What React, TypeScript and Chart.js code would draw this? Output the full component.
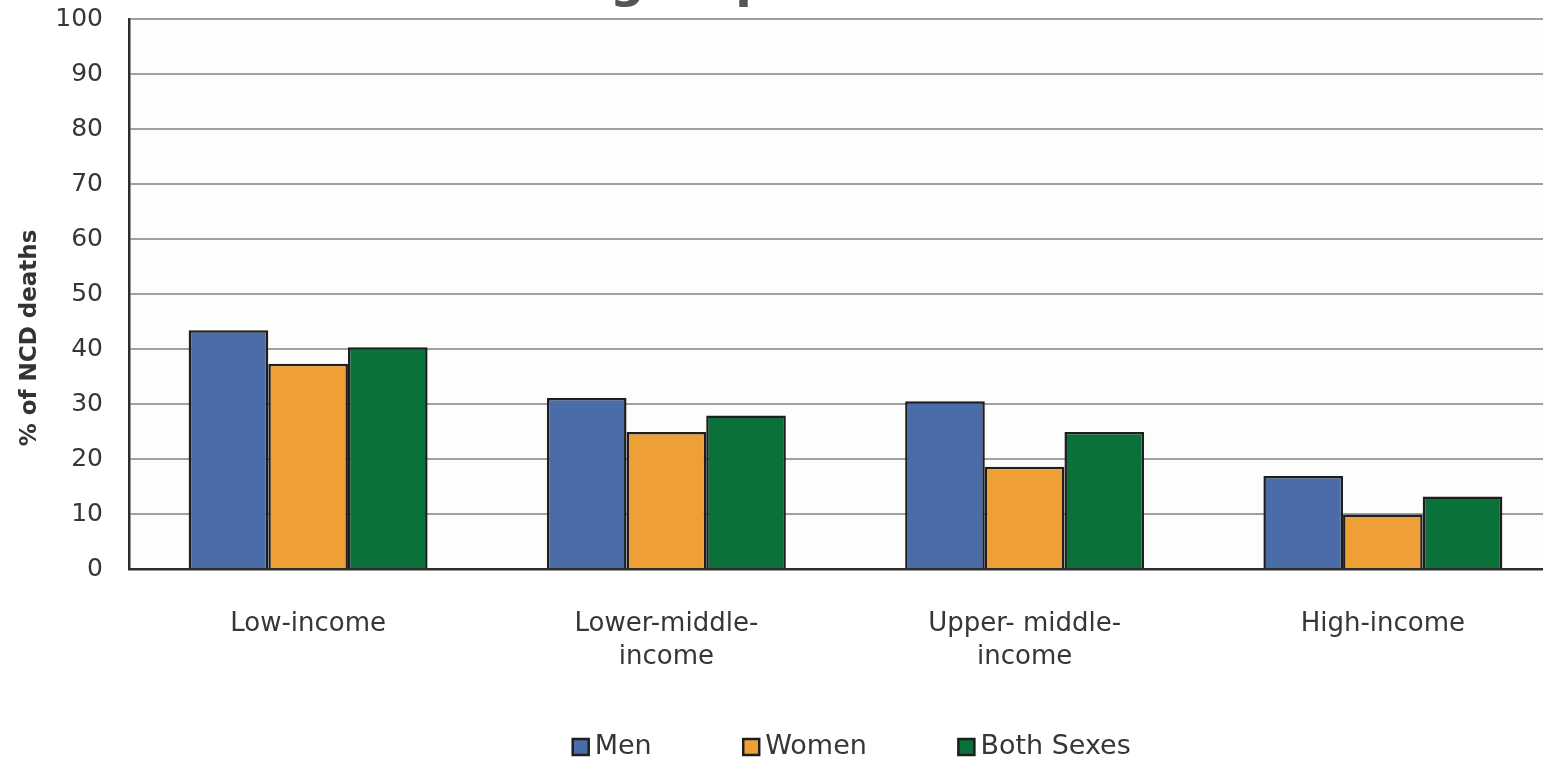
import React, { useEffect, useRef } from 'react';
import { Chart, registerables } from 'chart.js';

Chart.register(...registerables);

// ---- data ----
const categories: (string | string[])[] = [
  'Low-income',
  ['Lower-middle-', 'income'],
  ['Upper- middle-', 'income'],
  'High-income',
];
const seriesNames = ['Men', 'Women', 'Both Sexes'];
const menValues = [43.4, 31.1, 30.5, 16.9];
const womenValues = [37.3, 24.9, 18.6, 9.9];
const bothValues = [40.3, 27.9, 24.9, 13.2];
const yMin = 0;
const yMax = 100;
const yStep = 10;
const yAxisTitle = '% of NCD deaths';
const chartTitle = 'Income group';

// ---- styles ----
const seriesColors = ['#4A6CA8', '#EE9F36', '#0A713B'];
const barBorder = '#1e1e1e';
const textColor = '#363636';
const FONT = '"DejaVu Sans", Verdana, sans-serif';
const LEGEND_SHIFT_Y = 39.5; // move legend row up towards the axis labels
const LEGEND_SHIFT_X = 10;

const decorPlugin = {
  id: 'decor',
  afterLayout(chart: any) {
    const lg = chart.legend;
    if (lg) {
      lg.top -= LEGEND_SHIFT_Y;
      lg.bottom -= LEGEND_SHIFT_Y;
      lg.left += LEGEND_SHIFT_X;
      lg.right += LEGEND_SHIFT_X;
    }
  },
  beforeDraw(chart: any) {
    const { ctx, chartArea: a } = chart;
    ctx.save();
    ctx.fillStyle = '#fdfdfb';
    ctx.fillRect(a.left, a.top, a.right - a.left, a.bottom - a.top);
    ctx.restore();
  },
  afterDraw(chart: any) {
    const { ctx, chartArea: a } = chart;
    ctx.save();
    // cropped heading (only its descenders are visible)
    ctx.fillStyle = '#555555';
    ctx.font = `bold 48px ${FONT}`;
    ctx.textAlign = 'left';
    ctx.textBaseline = 'alphabetic';
    const pre = ctx.measureText('Income ').width;
    ctx.fillText(chartTitle, a.left + 481 - pre, a.top - 22.5);
    ctx.restore();

    ctx.save();
    ctx.translate(30, (a.top + a.bottom) / 2 + 44);
    ctx.rotate(-Math.PI / 2);
    ctx.font = `bold 23px ${FONT}`;
    ctx.fillStyle = '#333333';
    ctx.textAlign = 'center';
    ctx.textBaseline = 'middle';
    ctx.fillText(yAxisTitle, 0, 0);
    ctx.restore();
  },
};

export default function App() {
  const ref = useRef<HTMLCanvasElement>(null);

  useEffect(() => {
    if (!ref.current) return;
    const values = [menValues, womenValues, bothValues];
    const chart = new Chart(ref.current, {
      type: 'bar',
      data: {
        labels: categories,
        datasets: seriesNames.map((name, i) => ({
          label: name,
          data: values[i],
          backgroundColor: seriesColors[i],
          borderColor: barBorder,
          borderWidth: 2.5,
          categoryPercentage: 0.667,
          barPercentage: 1.0,
        })),
      },
      options: {
        animation: false,
        responsive: false,
        devicePixelRatio: 1,
        layout: { padding: { top: 69, left: 0, right: 38, bottom: 20 } },
        plugins: {
          title: { display: false },
          tooltip: { enabled: false },
          legend: {
            display: true,
            position: 'bottom',
            fullSize: false,
            labels: {
              usePointStyle: true,
              pointStyle: 'rect',
              boxWidth: 1,
              boxHeight: 16,
              padding: 99,
              color: textColor,
              font: { family: FONT, size: 27 },
            },
          },
        },
        scales: {
          x: {
            grid: { display: false },
            border: { display: true, color: '#2c2c2c', width: 2.5 },
            ticks: {
              color: textColor,
              font: { family: FONT, size: 26, lineHeight: 1.27 },
              padding: 31,
              maxRotation: 0,
              autoSkip: false,
            },
            afterFit: (s: any) => {
              s.height = 105;
            },
          },
          y: {
            min: yMin,
            max: yMax,
            grid: { color: '#a0a0a0', lineWidth: 2, drawTicks: false },
            border: { display: true, color: '#2c2c2c', width: 2.5 },
            ticks: {
              stepSize: yStep,
              color: textColor,
              font: { family: FONT, size: 25 },
              padding: 26,
            },
            title: { display: false },
            afterFit: (s: any) => {
              s.width = 129;
            },
          },
        },
      },
      plugins: [decorPlugin],
    } as any);
    return () => chart.destroy();
  }, []);

  return (
    <div
      style={{
        position: 'fixed',
        left: 0,
        top: 0,
        width: 1543,
        height: 757,
        overflow: 'hidden',
        background: '#ffffff',
      }}
    >
      <canvas
        ref={ref}
        width={1600}
        height={880}
        style={{ position: 'absolute', left: 0, top: -50, width: 1600, height: 880 }}
      />
    </div>
  );
}
